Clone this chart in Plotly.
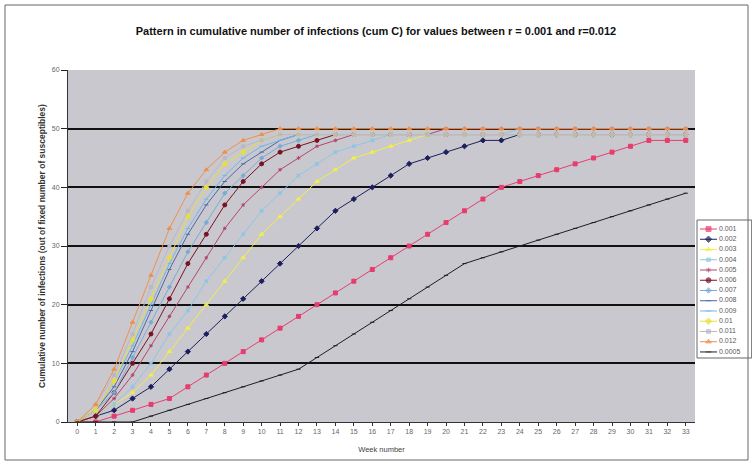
import plotly.graph_objects as go

weeks = list(range(34))

r_labels = ["0.001", "0.002", "0.003", "0.004", "0.005", "0.006", "0.007",
            "0.008", "0.009", "0.01", "0.011", "0.012", "0.0005"]

cum_0001 = [0, 0, 1, 2, 3, 4, 6, 8, 10, 12, 14, 16, 18, 20, 22, 24, 26, 28, 30, 32,
            34, 36, 38, 40, 41, 42, 43, 44, 45, 46, 47, 48, 48, 48]
cum_0002 = [0, 1, 2, 4, 6, 9, 12, 15, 18, 21, 24, 27, 30, 33, 36, 38, 40, 42, 44, 45,
            46, 47, 48, 48, 49, 49, 49, 49, 49, 49, 49, 49, 49, 49]
cum_0003 = [0, 1, 3, 5, 8, 12, 16, 20, 24, 28, 32, 35, 38, 41, 43, 45, 46, 47, 48, 49,
            49, 49, 49, 49, 49, 49, 49, 49, 49, 49, 49, 49, 49, 49]
cum_0004 = [0, 1, 3, 6, 10, 15, 19, 24, 28, 32, 36, 39, 42, 44, 46, 47, 48, 49, 49, 49,
            49, 49, 49, 49, 50, 50, 50, 50, 50, 50, 50, 50, 50, 50]
cum_0005 = [0, 1, 4, 8, 13, 18, 23, 28, 33, 37, 40, 43, 45, 47, 48, 49, 49, 49, 49, 49,
            50, 50, 50, 50, 50, 50, 50, 50, 50, 50, 50, 50, 50, 50]
cum_0006 = [0, 1, 5, 10, 15, 21, 27, 32, 37, 41, 44, 46, 47, 48, 49, 49, 49, 49, 49, 49,
            49, 49, 49, 49, 49, 49, 49, 49, 49, 49, 49, 49, 49, 49]
cum_0007 = [0, 2, 5, 11, 17, 23, 29, 34, 39, 42, 45, 47, 48, 49, 49, 49, 49, 49, 49, 49,
            49, 49, 49, 49, 49, 49, 49, 49, 49, 49, 49, 49, 49, 49]
cum_0008 = [0, 2, 6, 12, 19, 26, 32, 37, 41, 44, 46, 48, 49, 49, 49, 49, 49, 49, 49, 49,
            49, 49, 49, 49, 49, 49, 49, 49, 49, 49, 49, 49, 49, 49]
cum_0009 = [0, 2, 7, 13, 20, 27, 33, 38, 42, 45, 47, 48, 49, 49, 49, 49, 49, 49, 49, 49,
            49, 49, 49, 49, 49, 49, 49, 49, 49, 49, 49, 49, 49, 49]
cum_0010 = [0, 2, 7, 14, 21, 28, 35, 40, 44, 46, 48, 49, 49, 49, 49, 49, 49, 49, 49, 49,
            49, 49, 49, 49, 49, 49, 49, 49, 49, 49, 49, 49, 49, 49]
cum_0011 = [0, 3, 8, 15, 23, 30, 36, 41, 45, 47, 48, 49, 49, 49, 49, 49, 49, 49, 49, 49,
            49, 49, 49, 49, 49, 49, 49, 49, 49, 49, 49, 49, 49, 49]
cum_0012 = [0, 3, 9, 17, 25, 33, 39, 43, 46, 48, 49, 50, 50, 50, 50, 50, 50, 50, 50, 50,
            50, 50, 50, 50, 50, 50, 50, 50, 50, 50, 50, 50, 50, 50]
cum_00005 = [0, 0, 0, 0, 1, 2, 3, 4, 5, 6, 7, 8, 9, 11, 13, 15, 17, 19, 21, 23,
             25, 27, 28, 29, 30, 31, 32, 33, 34, 35, 36, 37, 38, 39]

series = [cum_0001, cum_0002, cum_0003, cum_0004, cum_0005, cum_0006, cum_0007,
          cum_0008, cum_0009, cum_0010, cum_0011, cum_0012, cum_00005]

colors = ["#e63d6e", "#1c1f5e", "#f2ee4a", "#8cc6e6", "#b2476e", "#7a1023", "#76acd6",
          "#4a67a6", "#6fb6e6", "#e9df3c", "#b9b9c6", "#f0904c", "#1e1e1e"]
symbols = ["square", "diamond", "triangle-up", "x", "asterisk", "circle", "cross",
           "line-ew", "line-ew", "diamond", "square", "triangle-up", "line-ew"]
sizes = [4, 4, 4, 3, 3, 4, 3, 3, 3, 4, 3, 4, 3]

FONT = "Liberation Sans, Arial, sans-serif"

fig = go.Figure()

# Main chart: one line per transmission rate r
for lab, vals, col, sym, sz in zip(r_labels, series, colors, symbols, sizes):
    fig.add_trace(go.Scatter(
        x=weeks, y=vals, name=lab, mode="lines+markers",
        line=dict(color=col, width=1),
        marker=dict(color=col, symbol=sym, size=sz,
                    line=dict(color=col, width=1)),
        xaxis="x", yaxis="y", showlegend=False,
    ))

# Key panel: a short line sample with its marker, then the r value
for i, (lab, col, sym, sz) in enumerate(zip(r_labels, colors, symbols, sizes)):
    fig.add_trace(go.Scatter(
        x=[3, 11.5, 20], y=[i, i, i], mode="lines+markers",
        line=dict(color=col, width=1),
        marker=dict(color=col, symbol=sym, size=[0, sz + 1, 0],
                    line=dict(color=col, width=1)),
        xaxis="x2", yaxis="y2", showlegend=False, hoverinfo="skip",
    ))
fig.add_trace(go.Scatter(
    x=[22] * len(r_labels), y=list(range(len(r_labels))), mode="text",
    text=r_labels, textposition="middle right",
    textfont=dict(family=FONT, size=7, color="#5a5a5a"),
    xaxis="x2", yaxis="y2", showlegend=False, hoverinfo="skip",
))

fig.update_layout(
    width=752, height=466,
    margin=dict(l=68, r=0, t=70, b=44),
    paper_bgcolor="white",
    plot_bgcolor="#cac8cf",
    font=dict(family=FONT, size=7, color="#444444"),
    title=dict(
        text="<b>Pattern in cumulative number of infections (cum C) for values between r = 0.001 and r=0.012</b>",
        x=0.5, xanchor="center", y=0.934, yanchor="middle",
        font=dict(size=11, color="#111111"),
    ),
    showlegend=False,
    xaxis=dict(
        domain=[0, 627 / 684],
        range=[-0.5, 33.5], tickmode="linear", tick0=0, dtick=1,
        showgrid=False, zeroline=False,
        showline=True, linecolor="#333333", linewidth=1,
        ticks="outside", ticklen=3, tickcolor="#333333",
        tickfont=dict(size=7, color="#666666"),
        title=dict(text="Week number", font=dict(size=7.5, color="#444444"), standoff=12),
    ),
    yaxis=dict(
        domain=[0, 1],
        range=[0, 60], tickmode="linear", tick0=0, dtick=10,
        showgrid=True, gridcolor="#111111", gridwidth=1.5,
        zeroline=False,
        showline=True, linecolor="#333333", linewidth=1,
        ticks="outside", ticklen=6, tickcolor="#222222",
        tickfont=dict(size=7, color="#666666"),
        title=dict(text="<b>Cumulative number of infections (out of fixed number of susceptibles)</b>",
                   font=dict(size=8.5, color="#333333"), standoff=4),
    ),
    xaxis2=dict(
        domain=[629 / 684, 1.0], anchor="y2", range=[0, 55],
        visible=False, fixedrange=True,
    ),
    yaxis2=dict(
        domain=[(422 - 358) / 352, (422 - 220) / 352], anchor="x2",
        range=[12.59, -0.88], visible=False, fixedrange=True,
    ),
    shapes=[
        # white key box
        dict(type="rect", xref="x2 domain", yref="y2 domain",
             x0=0, x1=0.995, y0=0, y1=1,
             line=dict(color="#666666", width=1), fillcolor="white", layer="below"),
        # outer frame of the chart
        dict(type="rect", xref="paper", yref="paper",
             x0=(5 - 68) / 684, x1=(748 - 68) / 684,
             y0=(422 - 460) / 352, y1=(422 - 5) / 352,
             line=dict(color="#666666", width=1), fillcolor="rgba(0,0,0,0)",
             layer="below"),
    ],
)

fig.write_html("out.html")
